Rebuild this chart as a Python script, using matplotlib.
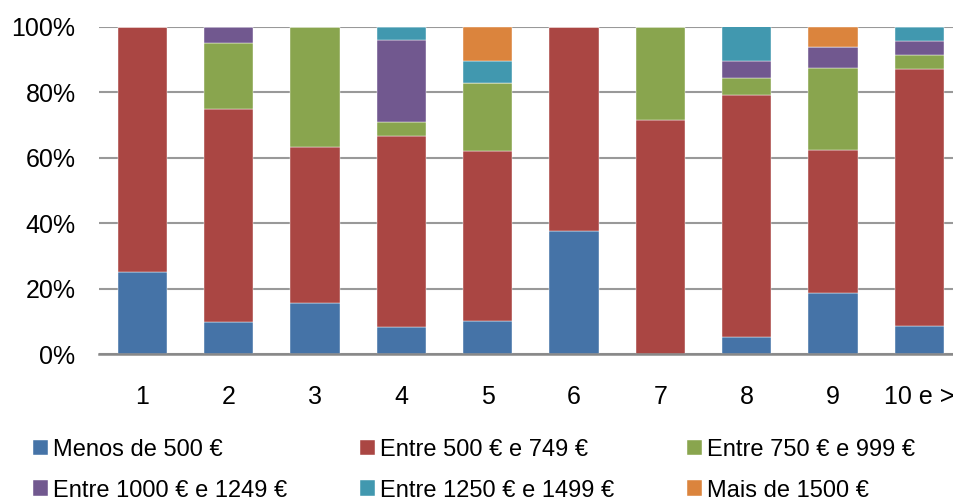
import numpy as np
import matplotlib
matplotlib.use("Agg")
import matplotlib.pyplot as plt
from matplotlib.ticker import FuncFormatter

categories = ["1", "2", "3", "4", "5", "6", "7", "8", "9", "10 e >"]
series_names = ["Menos de 500 €", "Entre 500 € e 749 €", "Entre 750 € e 999 €",
                "Entre 1000 € e 1249 €", "Entre 1250 € e 1499 €", "Mais de 1500 €"]
menos_500 = [25.0, 10.0, 15.8, 8.3, 10.3, 37.5, 0.0, 5.3, 18.75, 8.7]
entre_500_749 = [75.0, 65.0, 47.4, 58.3, 51.7, 62.5, 71.4, 73.7, 43.75, 78.3]
entre_750_999 = [0.0, 20.0, 36.8, 4.2, 20.7, 0.0, 28.6, 5.3, 25.0, 4.3]
entre_1000_1249 = [0.0, 5.0, 0.0, 25.0, 0.0, 0.0, 0.0, 5.3, 6.25, 4.3]
entre_1250_1499 = [0.0, 0.0, 0.0, 4.2, 6.9, 0.0, 0.0, 10.5, 0.0, 4.3]
mais_1500 = [0.0, 0.0, 0.0, 0.0, 10.3, 0.0, 0.0, 0.0, 6.25, 0.0]

series = [menos_500, entre_500_749, entre_750_999, entre_1000_1249,
          entre_1250_1499, mais_1500]
colors = ["#4573A7", "#AA4643", "#89A54E", "#71588F", "#4198AF", "#DB843D"]

plt.rcParams["font.family"] = ["Liberation Sans", "DejaVu Sans"]

fig = plt.figure(figsize=(9.54, 4.99), dpi=100)
ax = fig.add_axes([0.104, 0.29, 0.905, 0.6565])

x = np.arange(len(categories))
bottom = np.zeros(len(categories))
handles = []
for name, vals, c in zip(series_names, series, colors):
    vals = np.array(vals, dtype=float)
    b = ax.bar(x, vals, 0.57, bottom=bottom, color=c, label=name,
               edgecolor="white", linewidth=0.3, zorder=3)
    handles.append(b)
    bottom += vals

ax.set_xlim(-0.5, len(categories) - 0.5)
ax.set_ylim(0, 100)
ax.set_yticks(np.arange(0, 101, 20))
ax.yaxis.set_major_formatter(FuncFormatter(lambda v, p: f"{v:.0f}%"))
ax.set_xticks(x)
ax.set_xticklabels(categories)
ax.tick_params(axis="both", length=0, labelsize=18)
ax.tick_params(axis="y", pad=17)
ax.tick_params(axis="x", pad=22)
ax.grid(axis="y", color="#999999", linewidth=1.5, zorder=0)
for side in ["top", "right", "left"]:
    ax.spines[side].set_visible(False)
ax.spines["bottom"].set_color("#888888")
ax.spines["bottom"].set_linewidth(1.8)
ax.spines["bottom"].set_zorder(4)

# legend fills row by row in the reference -> reorder for matplotlib's column fill
order = [0, 3, 1, 4, 2, 5]
leg = fig.legend(handles=[handles[i] for i in order],
                 labels=[series_names[i] for i in order], loc="upper left",
                 bbox_to_anchor=(0.0346, 0.121), ncol=3, frameon=False,
                 fontsize=17, handlelength=0.63, handleheight=0.63,
                 handletextpad=0.2, columnspacing=3.1, labelspacing=0.8,
                 borderaxespad=0, borderpad=0)

fig.savefig("out.png", dpi=100)
